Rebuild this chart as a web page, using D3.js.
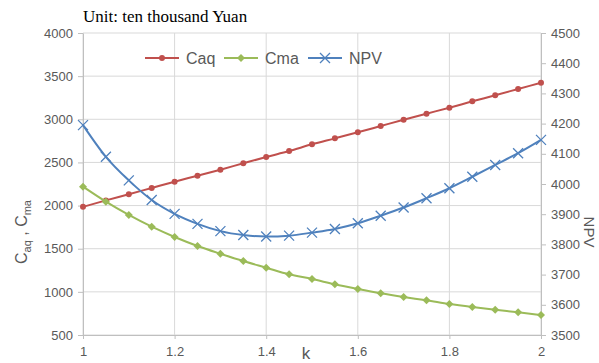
<!DOCTYPE html>
<html>
<head>
<meta charset="utf-8">
<script src="https://cdn.jsdelivr.net/npm/d3@7"></script>
<style>
  body { margin: 0; background: #fff; }
  svg { display: block; font-family: "Liberation Sans", Arial, sans-serif; }
</style>
</head>
<body>
<svg id="chart" width="599" height="363"></svg>
<script>
// k values and series
var kValues = [1, 1.05, 1.1, 1.15, 1.2, 1.25, 1.3, 1.35, 1.4, 1.45, 1.5, 1.55, 1.6, 1.65, 1.7, 1.75, 1.8, 1.85, 1.9, 1.95, 2];
var caq = [1985, 2060, 2131, 2204, 2277, 2346, 2416, 2490, 2563, 2632, 2710, 2779, 2849, 2922, 2995, 3065, 3134, 3208, 3278, 3351, 3424];
var cma = [2219, 2045, 1891, 1755, 1636, 1532, 1442, 1357, 1280, 1203, 1149, 1087, 1033, 983, 940, 902, 859, 824, 793, 763, 732];
var npv = [4195, 4090, 4012, 3947, 3901, 3868, 3844, 3831, 3826, 3829, 3839, 3851, 3870, 3895, 3922, 3953, 3986, 4024, 4063, 4102, 4146];
var xTicks = [1, 1.2, 1.4, 1.6, 1.8, 2];
var leftTicks = [500, 1000, 1500, 2000, 2500, 3000, 3500, 4000];
var rightTicks = [3500, 3600, 3700, 3800, 3900, 4000, 4100, 4200, 4300, 4400, 4500];

var svg = d3.select('#chart'),
    margin = {top: 33, right: 58, bottom: 28, left: 83},
    width = 599 - margin.left - margin.right,
    height = 363 - margin.top - margin.bottom,
    g = svg.append('g').attr('transform', 'translate(' + margin.left + ',' + margin.top + ')');

var x = d3.scaleLinear().domain([1, 2]).range([0, width]);
var yL = d3.scaleLinear().domain([500, 4000]).range([height, 0]);
var yR = d3.scaleLinear().domain([3500, 4500]).range([height, 0]);

var grid = '#d9d9d9', tickText = '#595959';
var plain = d3.format('d');

// gridlines
g.selectAll('.hgrid').data(leftTicks).enter().append('line')
  .attr('x1', 0).attr('x2', width)
  .attr('y1', function(d) { return yL(d); }).attr('y2', function(d) { return yL(d); })
  .attr('stroke', grid);
g.selectAll('.vgrid').data(xTicks).enter().append('line')
  .attr('y1', 0).attr('y2', height)
  .attr('x1', function(d) { return x(d); }).attr('x2', function(d) { return x(d); })
  .attr('stroke', grid);

// axes
function styleAxis(sel) {
  sel.select('.domain').attr('stroke', '#bfbfbf');
  sel.selectAll('.tick line').attr('stroke', '#bfbfbf');
  sel.selectAll('text').attr('fill', tickText).style('font-size', '13px');
}
g.append('g').attr('transform', 'translate(0,' + height + ')')
  .call(d3.axisBottom(x).tickValues(xTicks).tickSize(4).tickSizeOuter(0).tickFormat(d3.format('')))
  .call(styleAxis)
  .selectAll('text').attr('dy', '1.05em');
g.append('g')
  .call(d3.axisLeft(yL).tickValues(leftTicks).tickSize(5).tickSizeOuter(0).tickFormat(plain))
  .call(styleAxis)
  .selectAll('text').attr('x', -10);
g.append('g').attr('transform', 'translate(' + width + ',0)')
  .call(d3.axisRight(yR).tickValues(rightTicks).tickSize(5).tickSizeOuter(0).tickFormat(plain))
  .call(styleAxis)
  .selectAll('text').attr('x', 10);

// series
var series = [
  {name: 'Caq', values: caq, color: '#c0504d', y: yL, marker: 'circle'},
  {name: 'Cma', values: cma, color: '#9bbb59', y: yL, marker: 'diamond'},
  {name: 'NPV', values: npv, color: '#4f81bd', y: yR, marker: 'x'}
];

function drawMarker(sel, type, color) {
  if (type === 'circle') {
    sel.append('circle').attr('r', 3).attr('fill', color);
  } else if (type === 'diamond') {
    sel.append('path').attr('d', 'M0,-4L4,0L0,4L-4,0Z').attr('fill', color);
  } else {
    sel.append('path').attr('d', 'M-5,-5L5,5M-5,5L5,-5')
      .attr('stroke', color).attr('stroke-width', 1.3).attr('fill', 'none');
  }
}

series.forEach(function(s) {
  var line = d3.line()
    .x(function(d, i) { return x(kValues[i]); })
    .y(function(d) { return s.y(d); })
    .curve(d3.curveMonotoneX);
  g.append('path').datum(s.values)
    .attr('d', line).attr('fill', 'none')
    .attr('stroke', s.color).attr('stroke-width', 2);
  g.selectAll('.m-' + s.name).data(s.values).enter().append('g')
    .attr('transform', function(d, i) { return 'translate(' + x(kValues[i]) + ',' + s.y(d) + ')'; })
    .each(function() { drawMarker(d3.select(this), s.marker, s.color); });
});

// legend
var legendX = [145, 224, 308];
series.forEach(function(s, i) {
  var lg = svg.append('g').attr('transform', 'translate(' + legendX[i] + ',58)');
  lg.append('line').attr('x1', 0).attr('x2', 34).attr('stroke', s.color).attr('stroke-width', 2);
  drawMarker(lg.append('g').attr('transform', 'translate(17,0)'), s.marker, s.color);
  lg.append('text').attr('x', 41).attr('y', 6).attr('fill', tickText)
    .style('font-size', '16px').text(s.name);
});

// titles
svg.append('text').attr('x', 83).attr('y', 22)
  .style('font-family', '"Liberation Serif", "Times New Roman", serif')
  .style('font-size', '17px').attr('fill', '#000')
  .text('Unit: ten thousand Yuan');

svg.append('text').attr('x', 306).attr('y', 359)
  .attr('text-anchor', 'middle').attr('fill', tickText)
  .style('font-size', '17px').text('k');

var yLabel = svg.append('text')
  .attr('transform', 'translate(27,232) rotate(-90)')
  .attr('text-anchor', 'middle').attr('fill', tickText)
  .style('font-size', '16px');
yLabel.append('tspan').text('C');
yLabel.append('tspan').attr('dy', 4).style('font-size', '11px').text('aq');
yLabel.append('tspan').attr('dy', -4).text(' ,  C');
yLabel.append('tspan').attr('dy', 4).style('font-size', '11px').text('ma');

svg.append('text')
  .attr('transform', 'translate(584,232) rotate(90)')
  .attr('text-anchor', 'middle').attr('fill', tickText)
  .style('font-size', '15px').text('NPV');
</script>
</body>
</html>
